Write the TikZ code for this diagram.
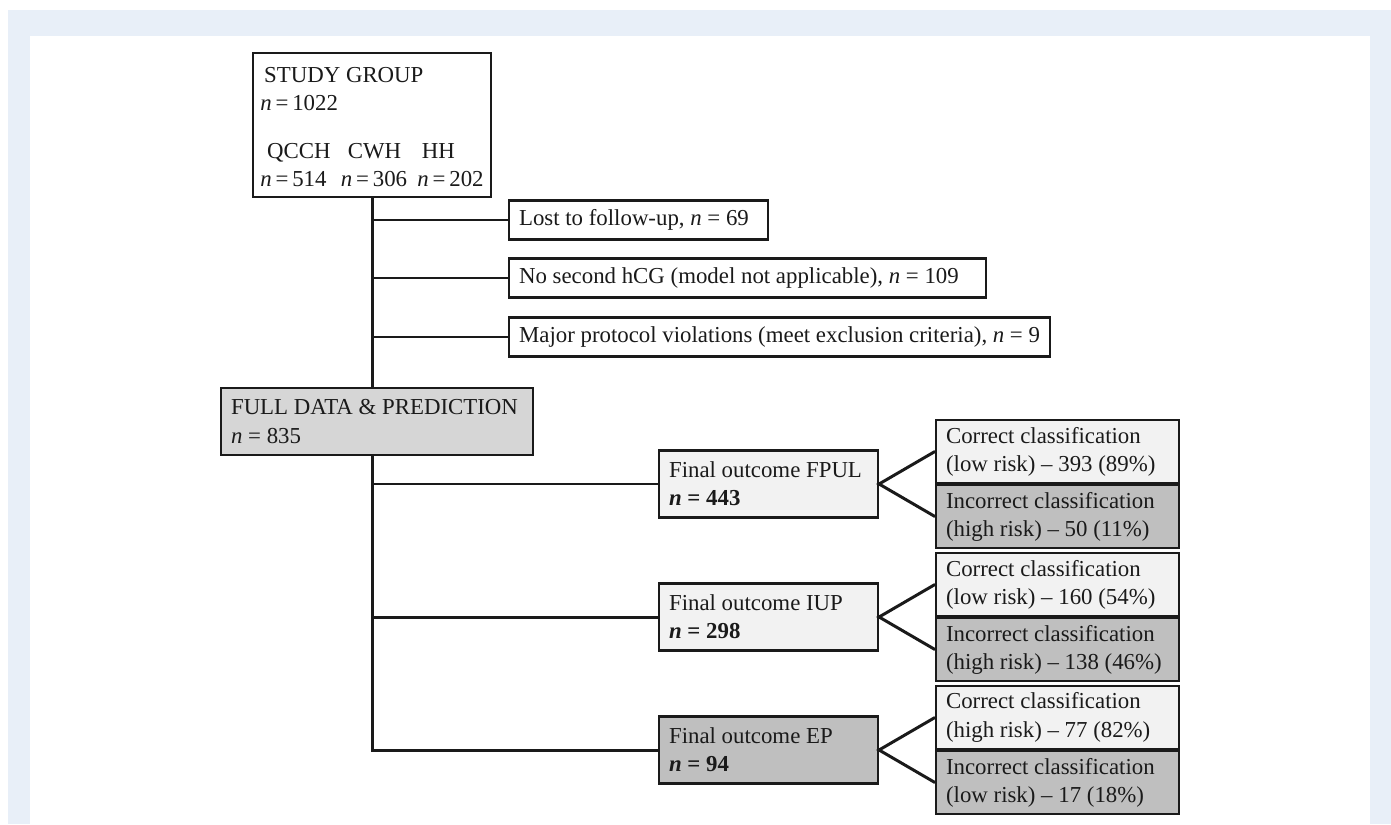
\documentclass[tikz,border=0pt]{standalone}
\usepackage{fontspec}
\setmainfont{Liberation Serif}
\usetikzlibrary{positioning,calc}
\definecolor{pageblue}{RGB}{232,239,248}
\definecolor{ink}{HTML}{1A1A1A}
\definecolor{paleg}{HTML}{F2F2F2}
\definecolor{midg}{HTML}{D6D6D6}
\definecolor{darkg}{HTML}{BFBFBF}
\tikzset{
  box/.style={draw=ink,fill=#1,line width=1.2pt,align=flush left,text=ink,
    inner xsep=0.2cm,inner ysep=3pt,font=\fontsize{13}{16}\selectfont},
  box/.default=white,
  excl/.style={box,anchor=west,minimum height=0.78cm},
  outc/.style={box=#1,text width=3.98cm,minimum height=1.34cm,anchor=west},
  cls/.style={box=#1,text width=4.46cm,minimum height=1.26cm},
  link/.style={draw=ink,line width=1.7pt},
}

\begin{document}
\begin{tikzpicture}[x=0.02cm,y=-0.02cm]
    \useasboundingbox (0,0) rectangle (1391,824);
    \fill[pageblue] (8,10) rectangle (1391,824);
    \fill[white] (30,36) rectangle (1370,824);
    % study group and exclusions
    \node[box,anchor=north,minimum width=4.76cm,minimum height=2.88cm,inner xsep=3pt,inner ysep=0pt] (study) at (372,52)
      {\rule{0pt}{16pt}\,STUDY GROUP\\\textit{n}\,=\,1022\\[15pt]
       \begin{tabular}{@{}l@{\hspace{0.45em}}l@{\hspace{0.45em}}l@{}}
         \hspace{0.3em}QCCH & \hspace{0.3em}CWH & \hspace{0.2em}HH\\
         \textit{n}\,=\,514 & \textit{n}\,=\,306 & \textit{n}\,=\,202
       \end{tabular}};
    \node[excl,text width=4.78cm] (lost) at (508,220) {Lost to follow-up, \textit{n} = 69};
    \node[excl,text width=9.14cm] (nohcg) at (508,278) {No second hCG (model not applicable), \textit{n} = 109};
    \node[excl] (major) at (508,337) {Major protocol violations (meet exclusion criteria), \textit{n} = 9};
    \node[box=midg,anchor=north west,minimum width=6.24cm,minimum height=1.34cm,text width=5.84cm] (full) at (220,387)
      {FULL DATA \& PREDICTION\\\textit{n} = 835};
    % final outcomes
    \node[outc=paleg] (fpul) at (658,484) {Final outcome FPUL\\\textbf{\textit{n} = 443}};
    \node[outc=paleg] (iup) at (658,617) {Final outcome IUP\\\textbf{\textit{n} = 298}};
    \node[outc=darkg] (ep) at (658,750) {Final outcome EP\\\textbf{\textit{n} = 94}};
    % classifications
    \node[cls=paleg,anchor=south west] (fpulok) at (935,484) {Correct classification\\(low risk) -- 393 (89\%)};
    \node[cls=darkg,anchor=north west] (fpulbad) at (935,484) {Incorrect classification\\(high risk) -- 50 (11\%)};
    \node[cls=paleg,anchor=south west] (iupok) at (935,617) {Correct classification\\(low risk) -- 160 (54\%)};
    \node[cls=darkg,anchor=north west] (iupbad) at (935,617) {Incorrect classification\\(high risk) -- 138 (46\%)};
    \node[cls=paleg,anchor=south west] (epok) at (935,750) {Correct classification\\(high risk) -- 77 (82\%)};
    \node[cls=darkg,anchor=north west] (epbad) at (935,750) {Incorrect classification\\(low risk) -- 17 (18\%)};
    % connectors
    \draw[link] (study.south) -- (study.south |- full.north);
    \draw[link] (study.south |- full.south) |- (ep.west);
    \draw[link] (study.south |- lost.west) -- (lost.west);
    \draw[link] (study.south |- nohcg.west) -- (nohcg.west);
    \draw[link] (study.south |- major.west) -- (major.west);
    \draw[link] (study.south |- fpul.west) -- (fpul.west);
    \draw[link] (study.south |- iup.west) -- (iup.west);
    \draw[link] (fpulok.west) -- (fpul.east) -- (fpulbad.west);
    \draw[link] (iupok.west) -- (iup.east) -- (iupbad.west);
    \draw[link] (epok.west) -- (ep.east) -- (epbad.west);
\end{tikzpicture}
\end{document}
